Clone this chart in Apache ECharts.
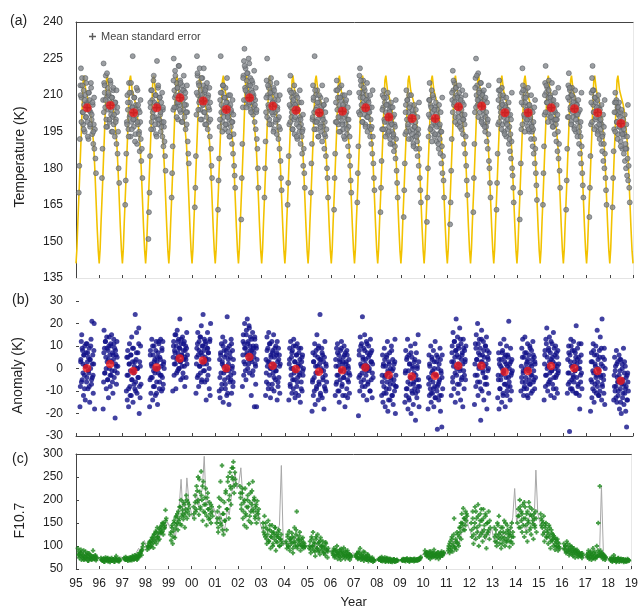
<!DOCTYPE html>
<html><head><meta charset="utf-8">
<script src="https://cdn.jsdelivr.net/npm/echarts/dist/echarts.min.js"></script>
<style>html,body{margin:0;padding:0;background:#fff}#c{width:641px;height:610px}</style>
</head><body><div id="c"></div>
<script>
// ---------- DATA ----------
const xTickLabels = ['95','96','97','98','99','00','01','02','03','04','05','06','07','08','09','10','11','12','13','14','15','16','17','18','19'];
const seasonYears = [1995,1996,1997,1998,1999,2000,2001,2002,2003,2004,2005,2006,2007,2008,2009,2010,2011,2012,2013,2014,2015,2016,2017,2018];

// (a) climatology (yellow) annual shape: fraction of year -> K
const climT = [0,0.04,0.08,0.14,0.19,0.23,0.27,0.31,0.35,0.42,0.5,0.58,0.64,0.7,0.76,0.81,0.86,0.91,0.96];
const climK = [141,147,158,172,185,195,206,216,218,212,209,206,202,196,190,180,168,156,146];

// (a) observed temperatures per season (chronological), K
const tempWindow = [0.12, 0.86];
const tempObs = [
[170,181,192,214,221,209,217,203,198,212,206,195,210,201,215,207,199,204,192,211,208,197,203,213,200,194,206,190,198,188,196,184,178],
[176,188,208,223,215,211,205,218,200,209,197,213,204,210,199,207,215,202,195,209,201,212,198,205,193,207,200,190,203,186,195,180,174],
[165,175,186,199,210,204,196,215,201,207,193,211,199,205,226,203,197,209,200,194,206,202,190,212,198,204,195,187,199,192,183,188,176],
[151,162,170,185,205,212,199,208,203,196,218,207,201,210,194,206,224,200,213,198,205,209,202,195,207,199,193,204,189,197,191,185,179],
[168,178,189,204,225,212,209,218,205,215,207,213,200,222,210,206,216,203,211,199,214,208,204,212,201,209,196,206,198,203,191,186,182],
[164,172,185,202,226,218,210,215,207,221,204,212,209,200,217,206,214,203,211,198,208,213,201,207,196,210,199,204,193,200,188,181,176],
[163,175,184,197,208,226,203,211,199,214,205,201,209,196,213,204,198,207,202,195,210,200,193,206,197,203,190,199,186,194,181,177,172],
[159,176,190,205,218,224,229,213,221,208,216,211,219,206,214,223,209,217,204,212,207,215,202,210,205,199,208,196,203,192,188,180,172],
[168,180,191,203,216,225,210,206,213,200,209,215,204,198,211,207,202,213,196,208,203,199,210,194,205,200,192,201,188,196,183,176,171],
[165,174,185,198,212,218,205,201,209,196,207,211,200,194,206,203,210,198,192,204,200,207,195,201,190,198,193,186,196,181,188,178,172],
[170,182,190,200,214,208,203,226,199,210,196,205,212,200,193,207,202,198,209,195,204,191,201,197,206,188,199,193,185,196,180,176,168],
[163,176,186,199,212,216,204,209,198,206,213,201,195,208,203,199,210,196,205,201,192,207,198,203,194,200,189,197,185,193,181,175,170],
[166,178,189,203,218,221,209,214,204,211,199,216,207,202,212,198,206,210,201,195,208,203,197,205,193,200,190,197,186,193,182,176,171],
[162,172,183,196,210,205,212,200,207,196,203,209,199,194,206,201,197,204,192,199,205,195,190,201,193,187,198,189,184,192,179,174,168],
[160,171,182,194,206,212,200,208,197,203,210,195,201,206,192,199,204,196,190,202,197,193,199,188,195,191,185,194,181,188,176,171,166],
[158,168,180,193,208,215,201,206,197,212,203,195,209,200,193,205,198,202,191,199,204,194,188,197,192,186,195,182,189,178,185,175,168],
[157,166,179,192,208,220,212,206,215,209,201,213,205,210,198,207,203,211,199,205,209,196,202,207,194,200,190,198,186,193,181,175,169],
[162,176,190,203,217,225,210,214,206,219,208,212,203,209,215,200,207,211,198,205,202,208,195,201,197,191,199,188,194,183,180,174,168],
[163,174,186,198,212,216,205,210,201,207,213,198,204,209,195,202,206,199,193,204,200,196,202,190,197,187,194,184,191,180,177,172,166],
[159,170,182,196,211,221,214,206,209,201,207,212,199,204,210,197,202,206,195,200,204,192,198,195,189,196,186,192,182,188,178,173,167],
[165,178,189,202,215,222,211,207,213,203,209,216,205,201,210,206,199,208,203,197,206,200,194,203,198,191,200,187,195,184,190,179,172],
[163,175,188,201,214,219,208,212,204,210,199,213,206,201,209,197,204,207,195,202,206,193,199,203,190,197,186,193,182,189,178,173,168],
[160,172,185,198,211,217,222,206,212,203,209,200,207,197,204,208,195,201,205,192,199,196,190,198,187,194,183,190,180,186,176,171,165],
[164,176,187,196,207,211,203,208,199,205,194,202,207,197,203,191,199,195,188,197,193,186,194,183,190,180,188,177,184,175,181,172,166]
];
// (a) further observations in the dense core of each season, K
const tempCoreWindow = [0.2, 0.78];
const tempCore = [
[210,199,214,203,196,208,217,201,206,193,211,204,198,215,202,207,195,209],
[203,214,208,197,219,206,211,200,216,204,209,195,213,202,207,199,212,205],
[198,207,193,211,202,215,196,205,200,209,191,204,213,199,206,194,203,208],
[207,196,212,201,216,204,198,210,193,206,214,200,209,203,197,211,205,199],
[216,205,220,210,201,213,207,222,204,215,209,199,212,218,206,211,203,214],
[211,219,204,214,208,200,217,210,206,221,203,212,198,215,209,205,213,207],
[200,211,206,195,214,203,209,198,207,217,201,205,193,210,204,199,208,202],
[217,208,222,212,205,219,210,225,207,214,203,216,211,209,220,206,213,204],
[209,201,214,205,198,211,217,203,207,195,212,206,200,215,204,208,197,210],
[206,199,211,203,196,208,214,201,205,193,209,204,197,212,200,207,195,202],
[201,209,196,212,204,199,207,193,210,202,197,205,214,200,206,194,203,208],
[207,199,212,201,195,209,204,214,198,206,193,210,202,208,196,205,200,211],
[211,202,216,206,199,209,213,204,197,208,215,201,207,203,210,196,205,212],
[204,196,209,199,193,206,201,211,195,203,190,207,198,205,194,202,197,208],
[203,195,208,198,192,205,200,210,194,202,189,206,197,204,193,201,196,207],
[202,208,196,205,191,210,199,204,194,207,197,201,190,206,198,203,195,209],
[211,203,216,207,199,213,205,209,201,214,197,208,204,212,200,206,202,210],
[213,205,218,208,201,211,206,215,199,210,204,212,197,209,203,207,200,214],
[208,199,212,203,196,206,210,201,194,205,209,198,204,207,192,202,200,211],
[207,198,212,202,195,209,204,200,213,196,206,201,210,197,203,199,205,208],
[210,203,214,207,199,212,205,209,201,215,197,208,204,211,200,206,202,213],
[209,201,213,205,198,210,203,207,196,212,200,206,202,208,195,204,199,211],
[207,199,212,203,196,209,201,205,194,210,198,204,200,206,193,202,197,208],
[203,195,207,199,192,205,197,201,189,204,194,200,196,202,188,198,193,206]
];
const tempMean = [204.8,205.8,202.8,204.8,208.9,207.6,204.1,208.9,205.5,203.8,202.8,203.4,204.8,201.0,200.4,200.4,205.2,205.5,202.8,202.8,204.8,204.4,202.8,198.4];

// (b) anomalies per season (chronological), K
const anomWindow = [0.17, 0.8];
const anomObs = [
[-17,-8,4,12,15,-5,8,2,-12,6,-3,10,-14,1,7,-6,11,3,-9,5,-2,9,-15,4,0,13,-7,21,-4,6,-11,2,20,-18],
[-18,-6,17,9,-2,12,5,-9,14,3,-5,8,-13,10,0,6,-8,11,-3,15,-1,7,-11,4,13,-4,9,-22,2,6,-7,12,-2,1],
[-10,5,-14,8,-3,-17,2,11,-8,-1,6,-12,14,-5,3,-15,9,-2,1,-9,24,-6,4,16,-11,0,7,-4,18,-20,3,-13,10,-7],
[-17,-5,8,-11,2,13,-4,-14,6,-1,10,-8,4,-12,0,12,-6,3,-16,7,-2,11,-9,5,-3,13,1,-10,8,-4,12,-7,3,0],
[-10,5,12,-3,8,15,2,-9,10,4,17,-1,7,13,0,9,22,3,-5,11,6,1,14,-2,8,4,12,-8,5,10,-4,9,2,6],
[-11,2,9,-4,16,6,-8,12,1,14,-2,7,19,-5,10,3,24,-1,8,13,-6,5,11,-14,2,9,16,-3,7,4,-9,12,-12,20],
[-10,4,-13,7,-2,11,-7,3,14,-15,1,8,-5,12,-9,-1,6,-12,23,9,-4,2,-16,10,-6,5,-3,13,-11,0,8,-8,4,-2],
[-8,6,15,-3,11,20,2,9,-5,17,7,22,0,12,4,19,-2,10,14,6,-12,8,3,16,-1,9,5,-17,13,2,-7,10,-17,4],
[-12,4,-6,14,1,9,-9,16,3,-3,11,-13,6,0,12,-7,8,-2,15,-10,5,1,-5,10,-1,7,-14,3,-8,9,-4,6,-11,2],
[-14,2,9,-7,12,-3,5,-11,8,0,-9,13,-5,3,-13,10,-1,6,-8,11,-4,1,-12,7,-2,4,-15,9,-6,3,-10,6,-3,0],
[-19,-6,7,-12,3,-4,11,-16,1,8,-9,15,-2,5,-14,10,-7,2,24,-11,4,-1,9,-13,6,-5,3,-18,-8,12,-3,-10,1,-6],
[-12,4,-7,9,-3,11,-10,1,6,-15,3,-5,8,-1,12,-8,2,-12,5,-4,10,0,-17,7,-2,3,-9,6,-13,1,-6,4,-11,-3],
[-21,-4,8,-10,14,2,-6,11,-2,23,5,-12,9,0,15,-8,4,-3,12,-14,7,1,-6,10,-1,6,-10,13,3,-5,8,-13,2,-4],
[-12,-3,6,-15,2,-8,9,-4,-17,1,-11,5,-6,12,-19,-2,3,-9,7,-14,0,-5,10,-12,-1,4,-16,-7,2,-10,13,-20,-3,-8],
[-15,-2,8,-12,4,-9,13,-18,-1,6,-14,2,-7,10,-20,-4,5,-11,1,-16,-6,3,-9,11,-23,-3,7,-13,0,-10,15,-5,-17,-8],
[-18,-4,6,-12,1,-9,10,-15,-2,4,-11,-6,8,-17,0,-8,12,-13,-3,3,-10,-27,5,-7,-14,2,-5,9,-19,-1,-12,-26,6,-9],
[-12,3,10,-6,16,1,-9,12,5,-15,8,22,-3,6,14,-11,2,9,-7,18,0,-14,11,4,-4,7,-17,13,-1,-9,8,3,-5,10],
[-16,2,11,-8,15,4,-3,20,-12,7,0,13,-6,9,-23,3,17,-10,6,-2,12,-14,5,1,-7,10,-4,14,-18,8,-1,4,-11,7],
[-13,-3,7,-18,2,-9,11,-5,4,-15,0,8,-11,-2,13,-7,3,-17,6,-4,10,-12,1,-8,5,21,-6,2,-14,9,-3,-10,4,-1],
[-10,1,9,-6,13,-2,-12,5,-8,14,0,-4,7,-9,3,11,-13,-1,6,-5,10,-7,2,-11,8,-3,4,12,-6,-1,5,-9,2,-4],
[-14,2,8,-8,13,-3,18,5,-10,1,9,-6,14,-2,7,-12,4,-1,11,-7,3,16,-4,-13,6,0,10,-9,-3,5,-11,8,-1,2],
[-11,4,-7,10,-2,-28,6,-9,13,1,-5,8,-10,-3,12,-6,3,-1,7,-11,19,-4,2,9,-8,0,5,-12,-18,3,-6,11,-2,-9],
[-19,-5,7,-13,3,-9,11,-2,-15,6,-7,1,10,-11,-3,17,-6,4,-12,-1,8,-10,14,-4,2,-14,22,-8,5,-3,-11,9,-16,0],
[-14,-3,5,-10,1,-8,8,-15,-4,3,-12,-6,6,-18,-1,-9,4,-20,-7,2,-13,-5,9,-16,-2,-11,1,-19,-8,-26,-3,-14,-6,-10]
];
// (b) further anomalies in the dense core of each season, K
const anomCoreWindow = [0.2, 0.77];
const anomCore = [
[3,-6,9,-2,6,-9,1,11,-4,7,-1,-8,4,10,-5,2,-3,8],
[7,-2,12,0,9,-5,4,14,-3,10,3,-6,6,11,-1,8,1,5],
[-3,5,-9,2,-12,6,-5,9,-1,-7,3,-10,7,0,-4,11,-8,1],
[6,-4,1,10,-8,3,-2,8,-11,5,0,12,-6,4,-3,9,-9,2],
[10,2,7,15,-2,5,12,0,9,3,13,6,-4,11,1,8,4,16],
[5,11,-3,8,1,14,-6,6,10,2,-1,12,4,-5,9,7,0,13],
[-4,6,-9,2,10,-2,5,-7,8,0,-11,4,-1,7,-5,11,1,-6],
[12,3,9,-1,15,6,11,2,18,8,4,13,-3,10,7,14,1,9],
[-2,8,3,-7,11,0,5,-9,7,2,-4,9,-1,6,12,-6,4,1],
[4,-8,0,7,-5,10,-2,3,-11,6,-6,2,9,-3,1,-9,5,-1],
[-5,3,-10,6,-2,-8,1,9,-6,4,-12,0,7,-4,-1,5,-9,2],
[1,-6,7,-3,-10,4,-1,9,-7,3,-4,6,-12,2,8,-5,0,-2],
[6,-3,10,1,-8,4,-5,8,2,-1,11,-7,5,0,-10,7,3,-2],
[-6,1,-11,4,-3,-9,6,-1,-14,2,-7,-4,8,-12,0,-5,3,-8],
[-1,-9,5,-6,-13,2,-4,7,-10,0,-7,-2,4,-11,-5,1,-8,3],
[-7,2,-5,-11,5,-1,-9,3,-13,-3,6,-8,0,-6,-12,4,-2,-4],
[7,-4,3,12,-2,8,0,-7,10,5,-1,13,-5,6,2,9,-3,4],
[-3,9,4,-6,11,1,6,-9,13,3,-1,8,-4,10,2,-7,5,0],
[-5,4,-9,1,-3,7,-12,-1,5,-7,2,-10,6,-4,0,-8,3,-2],
[-4,5,-1,-9,7,-6,2,-12,4,0,-7,9,-3,1,-10,6,-5,3],
[6,-3,11,0,-7,8,3,-5,12,-1,5,-9,9,2,-4,7,1,-2],
[-2,7,-6,3,10,-9,1,-4,8,-1,5,-11,4,-7,11,0,-3,6],
[3,-6,-1,8,-10,2,-4,6,-8,0,-12,5,-3,9,-7,1,-5,4],
[-8,-1,-13,2,-6,-10,-3,4,-15,-5,0,-11,-7,3,-9,-4,-14,-2]
];
const anomMean = [0.1,2.0,-1.1,0.5,4.5,3.6,0.1,5.1,1.2,-0.2,-1.4,-0.8,0.4,-2.9,-3.6,-3.2,1.2,1.2,-1.4,-1.1,1.1,0.1,-1.1,-5.4];

// (c) F10.7 monthly (grey line), 12 values per year
const f107Monthly = [
[86,82,78,84,80,76,80,75,73,77,80,76],
[73,71,70,72,70,73,70,71,69,70,76,80],
[75,74,73,72,74,73,80,83,95,88,105,112],
[95,102,112,106,118,112,128,122,140,148,138,152],
[142,138,132,118,150,185,245,165,172,248,200,178],
[160,182,215,185,205,225,295,190,200,182,170,182],
[168,150,175,160,128,145,180,168,205,235,260,225],
[238,270,205,190,182,178,172,195,205,165,172,150],
[135,128,124,118,112,108,118,125,122,145,275,100],
[112,102,108,100,96,112,125,118,102,108,98,96],
[102,96,92,108,96,112,100,92,88,82,86,92],
[86,80,78,82,84,80,78,76,82,76,80,86],
[82,78,76,73,76,73,72,71,70,69,69,70],
[72,71,73,71,69,68,66,66,67,68,68,70],
[70,70,69,69,70,70,70,70,70,71,73,80],
[86,82,80,78,76,76,82,80,82,80,86,88],
[82,88,100,112,106,110,100,122,135,145,168,142],
[132,118,112,122,135,125,138,122,112,132,122,140],
[118,106,102,132,122,128,120,110,116,138,162,225],
[152,168,182,150,142,132,152,172,162,142,265,170],
[152,140,132,122,126,116,110,106,100,96,90,92],
[96,90,100,96,90,88,86,92,86,80,78,76],
[76,75,75,72,74,72,76,80,230,86,78,75],
[70,70,71,70,70,70,70,70,70,69,69,69]
];
// (c) F10.7 on observation nights (green), chronological per season
const f107Window = [0.08, 0.9];
const f107Obs = [
[95,88,82,78,92,85,74,80,70,76,88,72,79,84,68,75,81,73,70,77,90,74,71,78,69,73],
[74,70,68,72,66,71,75,69,73,67,70,72,65,69,74,68,71,70,66,72,78,70,68,71,67,69],
[74,71,76,70,73,68,72,75,70,74,69,78,72,71,80,73,76,70,82,75,78,85,88,80,92,105],
[92,100,95,108,98,112,104,118,96,125,110,132,105,140,120,128,115,135,142,130,150,125,138,145,178,160],
[125,112,140,105,132,150,118,162,145,170,135,155,185,148,200,165,178,158,190,140,172,210,160,195,182,168],
[185,160,210,175,230,195,250,168,218,180,262,200,155,240,190,172,225,145,205,180,158,195,170,150,185,165],
[150,175,130,205,160,240,145,275,170,125,195,155,220,135,180,250,160,210,230,190,270,245,283,215,260,235],
[230,205,180,215,160,195,145,225,170,140,200,185,235,165,215,150,190,240,175,205,160,185,150,198,170,180],
[150,130,165,120,140,105,125,155,110,135,95,120,145,100,130,115,140,90,125,108,120,135,100,115,125,105],
[110,95,125,100,132,90,115,105,120,85,108,140,100,125,175,95,115,105,130,90,110,100,118,95,105,98],
[95,110,85,120,100,130,90,105,78,115,95,125,88,108,82,118,100,92,110,85,98,80,105,90,75,95],
[88,80,95,75,90,82,100,72,85,78,92,70,84,88,76,96,80,72,86,78,90,74,82,70,80,76],
[80,76,84,72,88,75,95,70,82,74,78,68,86,72,76,70,80,67,74,70,72,68,75,66,70,68],
[72,70,74,68,76,67,71,69,75,66,70,68,73,66,69,72,67,70,65,68,71,66,69,67,70,68],
[70,68,72,69,71,67,70,73,68,70,66,72,69,71,68,70,67,72,69,70,68,71,72,70,74,76],
[90,84,78,86,80,75,88,72,82,78,85,76,92,80,74,83,78,86,72,80,76,84,88,79,82,86],
[90,100,85,110,95,120,88,105,160,98,115,92,108,125,100,140,130,150,170,145,182,160,135,175,155,165],
[150,120,175,105,140,185,115,160,130,190,100,145,170,125,155,110,180,135,120,165,95,150,130,175,115,140],
[140,110,125,100,150,118,165,105,130,95,120,140,112,155,100,128,108,145,118,132,98,125,110,150,105,120],
[150,180,165,200,140,175,130,190,160,120,185,145,170,110,155,195,135,168,125,180,148,115,160,140,175,130],
[170,145,155,125,165,110,140,150,118,130,105,145,120,95,135,112,125,100,118,92,110,98,115,90,105,95],
[105,92,100,85,110,88,95,80,102,90,84,98,78,92,86,75,90,82,88,76,85,80,78,84,74,80],
[82,75,90,72,78,85,70,80,95,74,88,72,76,100,78,150,85,230,90,78,84,72,80,75,70,76],
[72,68,75,66,70,80,68,73,65,71,69,74,66,70,72,67,69,71,65,68,70,66,69,67,70,68]
];
const f107CoreWindow = [0.1, 0.88];
const f107Core = [
[80,74,86,70,78,90,72,82,76,68,84,74,79,71,77,73,80,75],
[70,68,73,66,71,69,74,67,72,70,68,71,66,73,69,70,67,72],
[72,70,74,71,73,69,75,72,76,71,74,78,73,77,80,84,90,98],
[98,105,110,100,118,108,125,115,130,120,112,138,128,145,132,150,140,155],
[130,145,120,155,138,165,150,175,160,185,145,170,195,165,180,200,175,190],
[170,195,180,220,200,245,185,210,230,175,205,190,165,215,180,160,190,175],
[160,140,185,150,200,135,170,155,215,180,240,200,260,225,250,270,230,245],
[215,190,225,175,200,165,185,210,155,195,175,220,180,200,165,190,175,160],
[140,125,150,115,135,110,145,120,130,105,125,140,110,120,130,100,115,110],
[105,120,98,115,110,128,95,118,108,135,100,112,122,102,115,98,108,100],
[100,92,115,98,108,88,120,95,105,90,112,98,102,86,95,108,92,88],
[84,90,78,92,86,80,88,76,94,82,86,78,90,80,84,76,82,78],
[78,82,74,85,76,80,72,88,75,78,70,82,73,76,69,72,70,68],
[70,72,68,73,69,71,67,74,70,68,72,66,70,69,71,67,69,68],
[69,71,68,70,72,69,70,68,71,69,70,72,68,70,71,69,72,73],
[82,86,78,84,80,88,76,82,85,79,83,77,86,81,78,84,80,85],
[95,105,90,115,100,125,95,110,130,105,120,140,115,150,135,160,145,170],
[135,160,125,150,175,140,165,120,155,180,130,160,145,170,125,150,135,155],
[120,135,108,145,125,115,140,105,130,118,150,112,135,125,110,140,120,130],
[165,140,185,155,170,145,195,160,130,175,150,185,140,165,155,170,145,160],
[160,140,150,130,145,120,135,125,140,110,128,115,122,105,115,100,108,98],
[95,100,88,105,92,85,98,90,82,95,88,84,92,80,86,82,78,84],
[78,84,76,88,80,74,85,78,82,76,90,80,78,84,76,82,78,74],
[70,72,68,74,69,71,67,73,70,68,72,69,71,67,70,68,72,69]
];

// ---------- BUILD ----------
function spread(obs, win) {
  const out = [];
  obs.forEach((arr, i) => {
    const n = arr.length;
    arr.forEach((v, j) => out.push([seasonYears[i] + win[0] + (win[1] - win[0]) * j / (n - 1), v]));
  });
  return out;
}
const climData = [];
seasonYears.forEach(y => climT.forEach((t, k) => climData.push([y + t, climK[k]])));
climData.push([seasonYears[seasonYears.length - 1] + 1, climK[0]]);
const tempData = spread(tempObs, tempWindow).concat(spread(tempCore, tempCoreWindow));
const anomData = spread(anomObs, anomWindow).concat(spread(anomCore, anomCoreWindow));
const f107Data = spread(f107Obs, f107Window).concat(spread(f107Core, f107CoreWindow));
const tempMeanData = tempMean.map((v, i) => [seasonYears[i] + 0.48, v]);
const anomMeanData = anomMean.map((v, i) => [seasonYears[i] + 0.47, v]);
const f107Line = [];
f107Monthly.forEach((row, i) => row.forEach((v, m) => f107Line.push([seasonYears[i] + (m + 0.5) / 12, v])));

const FONT = 'Liberation Sans, Arial, sans-serif';
const PLUS = 'path://M4,0H6V4H10V6H6V10H4V6H0V4H4Z';
const FATPLUS = 'path://M3,0H7V3H10V7H7V10H3V7H0V3H3Z';
const xMin = 1995, xMax = 2019;
const lab = {fontFamily: FONT, fontSize: 12, color: '#222'};

function xBase(grid, extra) {
  return Object.assign({type: 'value', gridIndex: grid, min: xMin, max: xMax, interval: 1,
    splitLine: {show: false}, axisLabel: {show: false},
    axisTick: {show: true, inside: true, length: 3, lineStyle: {color: '#444'}},
    axisLine: {show: true, onZero: false, lineStyle: {color: '#444'}}}, extra || {});
}

const option = {
  animation: false,
  backgroundColor: '#fff',
  grid: [
    {left: 76, right: 8, top: 22, height: 256},
    {left: 76, right: 8, top: 301, height: 135},
    {left: 76, right: 8, top: 454, height: 118}
  ],
  legend: {
    data: [{name: 'Mean standard error', icon: PLUS}],
    left: 84, top: 26, itemWidth: 7, itemHeight: 7, itemGap: 4,
    textStyle: {fontFamily: FONT, fontSize: 11, color: '#444'}
  },
  xAxis: [
    xBase(0, {axisLine: {show: true, onZero: false, lineStyle: {color: '#e4e4e4'}}}),
    xBase(1),
    xBase(2, {axisLine: {show: true, onZero: false, lineStyle: {color: '#e4e4e4'}},
      axisLabel: {show: true, margin: 9, ...lab, formatter: v => xTickLabels[Math.round(v - xMin)]},
      name: 'Year', nameLocation: 'middle', nameGap: 27, nameTextStyle: {fontFamily: FONT, fontSize: 13, color: '#222'}}),
    xBase(0, {position: 'top', axisTick: {show: false}}),
    xBase(2, {position: 'top', axisTick: {show: false}})
  ],
  yAxis: [
    {type: 'value', gridIndex: 0, min: 135, max: 240, interval: 15, splitLine: {show: false},
      axisLine: {show: true, lineStyle: {color: '#444'}}, axisTick: {show: false},
      axisLabel: {margin: 13, ...lab},
      name: 'Temperature (K)', nameLocation: 'middle', nameGap: 49, nameRotate: 90,
      nameTextStyle: {fontFamily: FONT, fontSize: 14, color: '#222', padding: [0, 0, 0, -14]}},
    {type: 'value', gridIndex: 1, min: -30, max: 30, interval: 10, splitLine: {show: false},
      axisLine: {show: false}, axisTick: {show: true, inside: true, length: 3, lineStyle: {color: '#444'}},
      axisLabel: {margin: 13, ...lab},
      name: 'Anomaly (K)', nameLocation: 'middle', nameGap: 51, nameRotate: 90,
      nameTextStyle: {fontFamily: FONT, fontSize: 14, color: '#222', padding: [0, 0, 0, -14]}},
    {type: 'value', gridIndex: 2, min: 50, max: 300, interval: 50, splitLine: {show: false},
      axisLine: {show: true, lineStyle: {color: '#444'}}, axisTick: {show: true, inside: true, length: 3, lineStyle: {color: '#444'}},
      axisLabel: {margin: 13, ...lab},
      name: 'F10.7', nameLocation: 'middle', nameGap: 49, nameRotate: 90,
      nameTextStyle: {fontFamily: FONT, fontSize: 14, color: '#222', padding: [0, 0, 0, -18]}},
    {type: 'value', gridIndex: 0, min: 135, max: 240, interval: 15, position: 'right', splitLine: {show: false},
      axisLine: {show: true, lineStyle: {color: '#e8e8e8'}}, axisTick: {show: false}, axisLabel: {show: false}},
    {type: 'value', gridIndex: 2, min: 50, max: 300, interval: 50, position: 'right', splitLine: {show: false},
      axisLine: {show: true, lineStyle: {color: '#e8e8e8'}}, axisTick: {show: false}, axisLabel: {show: false}}
  ],
  graphic: [
    {type: 'text', left: 10, top: 14, style: {text: '(a)', font: '14px ' + FONT, fill: '#222'}},
    {type: 'text', left: 12, top: 293, style: {text: '(b)', font: '14px ' + FONT, fill: '#222'}},
    {type: 'text', left: 12, top: 452, style: {text: '(c)', font: '14px ' + FONT, fill: '#222'}}
  ],
  series: [
    {name: 'clim', type: 'line', xAxisIndex: 0, yAxisIndex: 0, data: climData, showSymbol: false,
      lineStyle: {color: '#f2c200', width: 1.6}, z: 1, silent: true},
    {name: 'temp', type: 'scatter', xAxisIndex: 0, yAxisIndex: 0, data: tempData, symbolSize: 5,
      itemStyle: {color: '#83878c', borderColor: '#55595e', borderWidth: 0.7}, z: 2},
    {name: 'Mean standard error', type: 'scatter', xAxisIndex: 0, yAxisIndex: 0, data: tempMeanData,
      symbol: PLUS, symbolSize: 7, itemStyle: {color: '#333'}, z: 3},
    {name: 'tempMean', type: 'scatter', xAxisIndex: 0, yAxisIndex: 0, data: tempMeanData, symbolSize: 9,
      itemStyle: {color: '#ee1a1a'}, z: 4},
    {name: 'anom', type: 'scatter', xAxisIndex: 1, yAxisIndex: 1, data: anomData, symbolSize: 5,
      itemStyle: {color: '#12128a'}, z: 2},
    {name: 'anomMean', type: 'scatter', xAxisIndex: 1, yAxisIndex: 1, data: anomMeanData, symbolSize: 8.5,
      itemStyle: {color: '#ee1a1a'}, z: 4},
    {name: 'f107', type: 'line', xAxisIndex: 2, yAxisIndex: 2, data: f107Line, showSymbol: false,
      lineStyle: {color: '#a8a8a8', width: 1}, z: 1},
    {name: 'f107obs', type: 'scatter', xAxisIndex: 2, yAxisIndex: 2, data: f107Data, symbol: FATPLUS, symbolSize: 4.5,
      itemStyle: {color: '#1c861c'}, z: 2}
  ]
};
const chart = echarts.init(document.getElementById('c'), null, {renderer: 'canvas'});
chart.setOption(option);
</script></body></html>
